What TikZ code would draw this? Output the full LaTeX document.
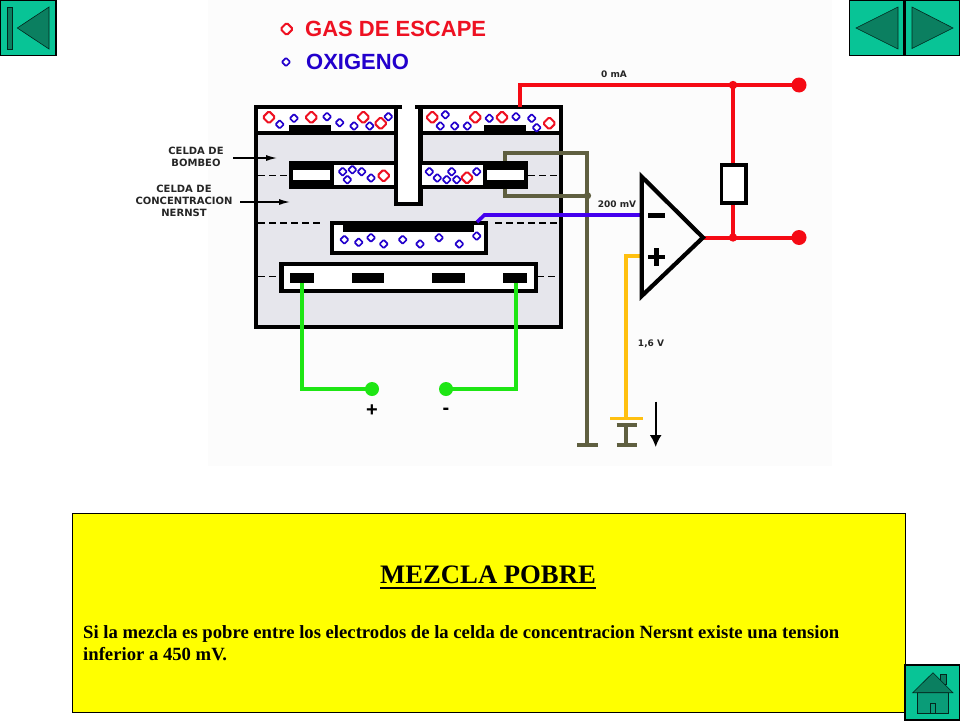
\documentclass[tikz,border=0pt]{standalone}
\usepackage{fontspec}
\setmainfont{Liberation Serif}
\setsansfont{Liberation Sans}
\newfontfamily\labelfont[BoldFont={DejaVu Sans Bold}]{DejaVu Sans}
\usetikzlibrary{arrows.meta}
\definecolor{gasred}{HTML}{EE1122}
\definecolor{oxblue}{HTML}{2200CC}
\definecolor{cellgray}{HTML}{E6E6EC}
\definecolor{olivew}{HTML}{5F5F40}
\definecolor{purplew}{HTML}{4400EE}
\definecolor{greenw}{HTML}{1EE614}
\definecolor{redw}{HTML}{F50A14}
\definecolor{amberw}{HTML}{FFC010}
\definecolor{btn}{HTML}{08C496}
\definecolor{btndark}{HTML}{0B7F60}
\definecolor{btnmid}{HTML}{0A9C78}
\definecolor{panelyellow}{RGB}{255,255,0}
\newcommand{\gasd}[2]{\draw[gasd] (#1-6.2,#2) -- (#1,#2-6.2) -- (#1+6.2,#2) -- (#1,#2+6.2) -- cycle;}
\newcommand{\oxd}[2]{\draw[oxd] (#1-4.2,#2) -- (#1,#2-4.2) -- (#1+4.2,#2) -- (#1,#2+4.2) -- cycle;}
\tikzset{
  x=1pt,y=-1pt,
  gasd/.style={draw=gasred,fill=white,line width=2pt,rounded corners=1.5pt},
  oxd/.style={draw=oxblue,fill=white,line width=1.7pt,rounded corners=1pt},
  wall/.style={draw=black,line width=4.2pt,miter limit=10},
  dashw/.style={black,line width=1.4pt,dash pattern=on 7pt off 4pt},
  olive wire/.style={draw=olivew,line width=4pt},
  red wire/.style={draw=redw,line width=4pt},
  green wire/.style={draw=greenw,line width=4pt},
  btnbox/.style={draw=black,line width=1.2pt,fill=btn},
  btnshape/.style={draw=black!70!btndark,line width=.6pt,fill=btndark},
  small label/.style={font=\labelfont\bfseries\fontsize{10}{12.3}\selectfont,text=black!85,align=center,inner sep=0pt},
  volt label/.style={font=\labelfont\bfseries\fontsize{9}{11}\selectfont,text=black!85,inner sep=0pt},
  thin arrow/.style={black,line width=1.3pt,-{Latex[length=11pt,width=6pt]}},
}
\begin{document}
\begin{tikzpicture}
\useasboundingbox (0,0) rectangle (960,720);
\fill[white] (0,0) rectangle (960,720);
\fill[black!1] (208,0) rectangle (832,466);

% legend
\gasd{286.7}{29}
\oxd{286}{62}
\node[anchor=west,inner sep=0pt,text=gasred,font=\sffamily\bfseries\fontsize{22}{26}\selectfont] (gaslabel) at (305,29) {GAS DE ESCAPE};
\node[anchor=west,inner sep=0pt,text=oxblue,font=\sffamily\bfseries\fontsize{22}{26}\selectfont] (oxlabel) at (306,62) {OXIGENO};

% sensor body
\fill[cellgray] (256,107) rectangle (561,327);
\fill[white] (256,107) rectangle (396,133);
\fill[white] (420,107) rectangle (561,133);
\fill[white] (396,100) rectangle (420,204);
\draw[wall] (402,107) -- (256,107) -- (256,327) -- (561,327) -- (561,107) -- (415,107);
\draw[wall] (256,133) -- (396,133);
\draw[wall] (420,133) -- (561,133);
\draw[wall] (396,107) -- (396,204) -- (420.5,204) -- (420.5,107);

% top electrodes
\fill (288.7,124.7) rectangle (330.7,133);
\fill (484,124.7) rectangle (526,133);

% dashed separators
\draw[dashw] (258,175.7) -- (289,175.7);
\draw[dashw] (528,175.7) -- (559,175.7);
\draw[dashw] (258,223) -- (322,223);
\draw[dashw] (495,223) -- (559,223);
\draw[dashw] (258,276.5) -- (280,276.5);
\draw[dashw] (537,276.5) -- (559,276.5);

% pump cells
\fill (289,161) rectangle (395,189);
\fill[white] (334,165.3) rectangle (394,184.7);
\fill[white] (293.3,170.3) rectangle (330,180);
\fill (422,161) rectangle (528,189);
\fill[white] (422,165.3) rectangle (482.7,184.7);
\fill[white] (486.7,170.3) rectangle (524,180);

% Nernst cell
\draw[wall,fill=white] (332,222.8) rectangle (486,253);
\fill (343.3,220.7) rectangle (474.3,231.7);

% heater
\draw[wall,fill=white] (281.4,263.8) rectangle (535.6,290.6);
\fill (290,272.7) rectangle (314,283.3);
\fill (351.7,272.7) rectangle (384.3,283.3);
\fill (431.7,272.7) rectangle (465,283.3);
\fill (502.7,272.7) rectangle (526.7,283.3);

% particles
\foreach \a/\b in {87/82,214/82,370/82,422/100,577/82,706/82,786/82,928/100,431/257,681/263}{
  \pgfmathsetmacro\px{240+\a/3}\pgfmathsetmacro\py{90+\b/3}\gasd{\px}{\py}}
\foreach \a/\b in {119/103,162/85,261/80,299/98,342/108,389/108,445/80,616/74,601/108,644/108,682/108,748/85,828/80,875/85,890/113,308/245,337/239,365/245,322/269,393/264,568/245,592/264,620/269,635/245,650/269,710/245}{
  \pgfmathsetmacro\px{240+\a/3}\pgfmathsetmacro\py{90+\b/3}\oxd{\px}{\py}}
\foreach \a/\b in {313/119,356/127,393/113,431/132,488/119,540/132,597/113,658/132,710/108}{
  \pgfmathsetmacro\px{240+\a/3}\pgfmathsetmacro\py{200+\b/3}\oxd{\px}{\py}}

% cell labels
\node[small label] (bombeo) at (196,157) {CELDA DE\\BOMBEO};
\node[small label] (nernst) at (184,201) {CELDA DE\\CONCENTRACION\\NERNST};
\coordinate (bombeotip) at (277,158);
\coordinate (nernsttip) at (290,202);
\draw[thin arrow] (233,158) -- (bombeotip);
\draw[thin arrow] (240,202) -- (nernsttip);

% coordinates of the circuit
\coordinate (opa) at (641.7,176.7);
\coordinate (opb) at (641.7,296);
\coordinate (optip) at (703,237.5);
\coordinate (jtop) at (733,85);
\coordinate (jbot) at (733,237.5);
\coordinate (ttop) at (799,85);
\coordinate (tbot) at (799,237.5);
\coordinate (gplus) at (372,389);
\coordinate (gminus) at (446,389);
\coordinate (gnd) at (587.3,445);
\coordinate (bat) at (626,418.3);
\coordinate (batlow) at (626,424.7);
\coordinate (batgnd) at (626,445);
\coordinate (oljoin) at (587.5,195.7);

% olive wires
\draw[olive wire] (505,161) -- (505,153.3) -- (587.3,153.3) -- (gnd);
\draw[olive wire] (505,189) -- (505,195.7) -- (oljoin);
\fill[olivew] (oljoin) circle (3.6);
\draw[olive wire] (577,445) -- (597.5,445);

% purple wire
\draw[purplew,line width=3.6pt] (477,222) -- (484.5,215) -- (641.7,215);
\node[volt label,anchor=center] (mv) at (617,204) {200 mV};

% red wires
\draw[red wire] (520,107) -- (520,85) -- (ttop);
\draw[red wire] (jtop) -- (jbot);
\draw[red wire] (optip) -- (tbot);
\fill[redw] (jtop) circle (4.2);
\fill[redw] (jbot) circle (4.2);
\fill[redw] (ttop) circle (7.5);
\fill[redw] (tbot) circle (7.5);
\node[volt label] (ma) at (614,74) {0 mA};
\node[draw=black,fill=white,line width=3.6pt,minimum width=24.5pt,minimum height=38pt,inner sep=0pt] (res) at (733.8,184.2) {};

% amplifier
\draw[amberw,line width=4pt] (641.7,255.7) -- (626,255.7) -- (bat);
\draw[wall,line join=miter] (opa) -- (optip) -- (opb) -- cycle;
\fill (647.7,212.5) rectangle (665,217.5);
\fill (647.7,254.5) rectangle (665,259);
\fill (654.2,247.7) rectangle (658.8,265.8);

% battery
\draw[amberw,line width=3.6pt] (610,418.3) -- (642.7,418.3);
\draw[olive wire] (616.7,424.7) -- (636.7,424.7);
\draw[olive wire] (batlow) -- (batgnd);
\draw[olive wire] (616.7,445) -- (636.7,445);
\node[volt label] (vol) at (651,344) {1,6 V};
\coordinate (arrtop) at (655.7,401.7);
\coordinate (arrbot) at (655.7,447);
\draw[black,line width=1.8pt,-{Latex[length=12pt,width=12pt]}] (arrtop) -- (arrbot);

% heater wires
\draw[green wire] (301.7,283) -- (301.7,389) -- (gplus);
\draw[green wire] (516,283) -- (516,389) -- (gminus);
\fill[greenw] (gplus) circle (7);
\fill[greenw] (gminus) circle (7);
\node[font=\sffamily\bfseries\fontsize{20}{24}\selectfont,inner sep=0pt] (plus) at (372,411) {+};
\node[font=\sffamily\bfseries\fontsize{20}{24}\selectfont,inner sep=0pt] (minus) at (446,411) {-};

% text box
\node[draw=black,fill=panelyellow,line width=1pt,minimum width=832.5pt,minimum height=199pt,inner sep=0pt,anchor=north west] (panel) at (72,513) {};
\node[anchor=base,inner sep=0pt,font=\rmfamily\bfseries\fontsize{26.67}{30}\selectfont] (title) at (488,583) {MEZCLA POBRE};
\draw[line width=2pt] (380,587.8) -- (596,587.8);
\node[anchor=base west,inner sep=0pt,font=\rmfamily\bfseries\fontsize{18.67}{22}\selectfont] (l1) at (83,638.3) {Si la mezcla es pobre entre los electrodos de la celda de concentracion Nersnt existe una tension};
\node[anchor=base west,inner sep=0pt,font=\rmfamily\bfseries\fontsize{18.67}{22}\selectfont] (l2) at (83,660) {inferior a 450 mV.};

% navigation buttons
\draw[btnbox] (0.6,0.6) rectangle (56,55.5);
\draw[btnshape] (7.3,7) rectangle (12.3,49);
\draw[btnshape] (17.3,28) -- (49,7) -- (49,49) -- cycle;
\draw[btnbox] (849.5,0.6) rectangle (904,55.5);
\draw[btnshape] (856,28) -- (898,7) -- (898,49) -- cycle;
\draw[btnbox] (905.7,0.6) rectangle (960,55.5);
\draw[btnshape] (912,7) -- (953,28) -- (912,48.5) -- cycle;
\draw[btnbox] (905,665) rectangle (960,720);
\draw[btnshape,fill=btnmid] (917,692.7) rectangle (948.7,713);
\draw[btnshape,fill=btnmid] (930,703) rectangle (935.3,713);
\draw[btnshape] (940.7,674) rectangle (946,684);
\draw[btnshape] (912.7,692.7) -- (933,672.7) -- (953,692.7) -- cycle;
\end{tikzpicture}
\end{document}
